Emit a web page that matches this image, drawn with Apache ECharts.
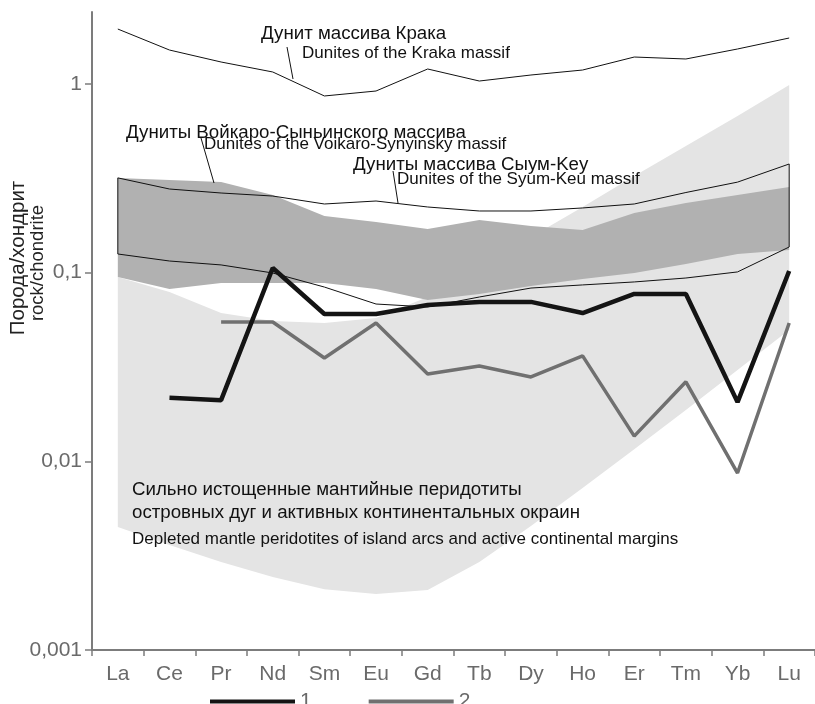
<!DOCTYPE html>
<html>
<head>
<meta charset="utf-8">
<script src="https://cdn.jsdelivr.net/npm/echarts@6/dist/echarts.min.js"></script>
<style>
html, body { margin: 0; padding: 0; background: #fff; }
#main { width: 815px; height: 704px; }
</style>
</head>
<body>
<div id="main"></div>
<script>
// РЗЭ, нормированные на хондрит
var elements = ['La', 'Ce', 'Pr', 'Nd', 'Sm', 'Eu', 'Gd', 'Tb', 'Dy', 'Ho', 'Er', 'Tm', 'Yb', 'Lu'];
var yTicks = [0.001, 0.01, 0.1, 1];

// образцы 1 и 2
var sample1 = [null, 0.0217, 0.0211, 0.1058, 0.0604, 0.0604, 0.0674, 0.070, 0.070, 0.0611, 0.0771, 0.0771, 0.0206, 0.102];
var sample2 = [null, null, 0.0548, 0.0548, 0.0353, 0.0541, 0.0290, 0.0320, 0.0280, 0.0362, 0.0136, 0.0264, 0.00867, 0.0541];

// дунит массива Крака
var kraka = [1.956, 1.514, 1.308, 1.158, 0.864, 0.918, 1.201, 1.037, 1.116, 1.186, 1.390, 1.357, 1.533, 1.753];

// дуниты массива Сыум-Кеу (контур)
var syumTop = [0.318, 0.2776, 0.2644, 0.2548, 0.2312, 0.2398, 0.2229, 0.2123, 0.2123, 0.2203, 0.2312, 0.266, 0.302, 0.3767];
var syumBottom = [0.1256, 0.1153, 0.1099, 0.0996, 0.0839, 0.0682, 0.0658, 0.0743, 0.0829, 0.0861, 0.0893, 0.0937, 0.1009, 0.1368];

// дуниты Войкаро-Сыньинского массива (тёмное поле)
var voikTop = [0.3177, 0.3097, 0.3027, 0.2582, 0.1997, 0.1857, 0.1703, 0.1901, 0.1767, 0.1683, 0.2072, 0.2340, 0.2582, 0.2845];
var voikBottom = [0.0948, 0.0819, 0.0882, 0.0882, 0.0882, 0.0819, 0.0716, 0.0771, 0.0850, 0.0925, 0.0996, 0.1112, 0.1256, 0.1318];

// истощенные мантийные перидотиты (светлое поле)
var depTop = [0.0948, 0.0790, 0.0611, 0.0554, 0.0541, 0.0575, 0.0743, 0.1072, 0.1545, 0.2229, 0.3253, 0.469, 0.676, 0.988];
var depBottom = [0.00449, 0.00360, 0.00293, 0.00244, 0.00210, 0.00198, 0.00208, 0.00293, 0.00454, 0.00722, 0.0116, 0.0187, 0.0305, 0.0497];

var FONT = "'Liberation Sans', Arial, sans-serif";
var chart = echarts.init(document.getElementById('main'));

function band(top, bottom, fill, stroke, z) {
    return {
        type: 'custom',
        z: z,
        silent: true,
        clip: false,
        data: [[0, top[0]]],
        renderItem: function (params, api) {
            var pts = [];
            for (var i = 0; i < top.length; i++) pts.push(api.coord([i, top[i]]));
            for (var j = bottom.length - 1; j >= 0; j--) pts.push(api.coord([j, bottom[j]]));
            return {
                type: 'polygon',
                shape: { points: pts },
                style: { fill: fill, stroke: stroke, lineWidth: 1 }
            };
        }
    };
}

function txt(s, x, y, size) {
    return { type: 'text', x: x, y: y, z: 100,
        style: { text: s, fill: '#111', font: size + 'px ' + FONT, verticalAlign: 'middle' } };
}
function vtxt(s, x, y, size) {
    return { type: 'text', x: x, y: y, rotation: Math.PI / 2, z: 100,
        style: { text: s, fill: '#222', font: size + 'px ' + FONT, align: 'center', verticalAlign: 'middle' } };
}
function leader(x1, y1, x2, y2) {
    return { type: 'line', z: 100, shape: { x1: x1, y1: y1, x2: x2, y2: y2 },
        style: { stroke: '#111', lineWidth: 1 } };
}

var option = {
    animation: false,
    grid: { left: 92, right: -8, top: 12, bottom: 54 },
    xAxis: {
        type: 'category',
        data: elements,
        boundaryGap: true,
        axisLine: { lineStyle: { color: '#7c7c7c', width: 2 } },
        axisTick: { show: true, length: 6, lineStyle: { color: '#7c7c7c', width: 1.5 } },
        axisLabel: { interval: 0, margin: 14, fontSize: 21, color: '#6a6a6a', fontFamily: FONT },
        splitLine: { show: false }
    },
    yAxis: {
        type: 'log',
        logBase: 10,
        min: 0.001,
        max: 2.408,
        axisLine: { show: true, lineStyle: { color: '#7c7c7c', width: 2 } },
        axisTick: { show: true, length: 7, customValues: yTicks, lineStyle: { color: '#7c7c7c', width: 1.5 } },
        axisLabel: {
            customValues: yTicks,
            margin: 10,
            fontSize: 21,
            color: '#6a6a6a',
            fontFamily: FONT,
            formatter: function (v) { return String(v).replace('.', ','); }
        },
        splitLine: { show: false }
    },
    legend: {
        data: ['1', '2'],
        left: 205,
        top: 686,
        icon: 'rect',
        itemWidth: 85,
        itemHeight: 4,
        itemGap: 57,
        textStyle: { fontSize: 21, color: '#6a6a6a', fontFamily: FONT, padding: [0, 0, 0, 0] }
    },
    graphic: [
        vtxt('Порода/хондрит', 18, 258, 20.5),
        vtxt('rock/chondrite', 38, 263, 18.5),
        txt('Дунит массива Крака', 261, 34, 18.7),
        txt('Dunites of the Kraka massif', 302, 53, 17),
        leader(287, 47, 293, 79),
        txt('Дуниты Войкаро-Сыньинского массива', 126, 133, 18.7),
        txt('Dunites of the Voikaro-Synyinsky massif', 204, 144, 17),
        leader(201, 138, 214, 183),
        txt('Дуниты массива Сыум-Key', 353, 165, 18.7),
        txt('Dunites of the Syum-Keu massif', 397, 179, 17),
        leader(393, 171, 398, 203),
        txt('Сильно истощенные мантийные перидотиты', 132, 490, 18.7),
        txt('островных дуг и активных континентальных окраин', 132, 513, 18.7),
        txt('Depleted mantle peridotites of island arcs and active continental margins', 132, 539, 17)
    ],
    series: [
        band(depTop, depBottom, '#e4e4e4', 'none', 1),
        band(voikTop, voikBottom, '#b1b1b1', 'none', 2),
        band(syumTop, syumBottom, 'none', '#111', 3),
        {
            name: 'kraka', type: 'line', data: kraka, z: 4, symbol: 'none', silent: true,
            lineStyle: { color: '#111', width: 1 }, itemStyle: { color: '#111' }
        },
        {
            name: '2', type: 'line', data: sample2, z: 5, symbol: 'none', silent: true,
            lineStyle: { color: '#707070', width: 3.5 }, itemStyle: { color: '#707070' }
        },
        {
            name: '1', type: 'line', data: sample1, z: 6, symbol: 'none', silent: true,
            lineStyle: { color: '#141414', width: 4.5 }, itemStyle: { color: '#141414' }
        }
    ]
};
chart.setOption(option);
</script>
</body>
</html>
